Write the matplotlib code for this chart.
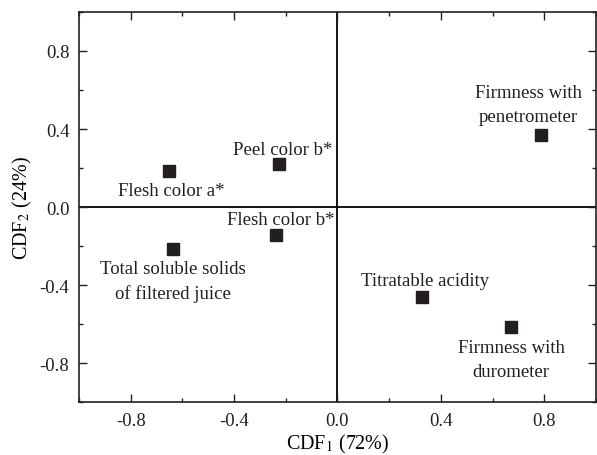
import numpy as np
import matplotlib
matplotlib.use('Agg')
import matplotlib.pyplot as plt
from matplotlib.ticker import MultipleLocator, FormatStrFormatter

labels = ['Flesh color a*', 'Peel color b*', 'Flesh color b*',
          'Total soluble solids\nof filtered juice', 'Titratable acidity',
          'Firmness with\ndurometer', 'Firmness with\npenetrometer']
cdf1 = [-0.653, -0.225, -0.237, -0.638, 0.328, 0.670, 0.788]
cdf2 = [0.186, 0.219, -0.144, -0.217, -0.462, -0.614, 0.367]
# label anchor points (centre of text block)
lab_x = [-0.643, -0.213, -0.221, -0.637, 0.339, 0.671, 0.737]
lab_y = [0.087, 0.296, -0.066, -0.379, -0.378, -0.782, 0.524]

plt.rcParams['font.family'] = 'Liberation Serif'
plt.rcParams['mathtext.fontset'] = 'stix'
plt.rcParams['axes.unicode_minus'] = False

fig = plt.figure(figsize=(5.97, 4.56), dpi=100)
ax = fig.add_axes([0.1323, 0.1162, 0.866, 0.8553])

ax.axhline(0, color='black', lw=1.3, zorder=1)
ax.axvline(0, color='black', lw=1.3, zorder=1)
ax.plot(cdf1, cdf2, 's', color='#231f20', markersize=8, zorder=3)
for t, x, y in zip(labels, lab_x, lab_y):
    ax.text(x, y, t, ha='center', va='center', fontsize=13.5, color='#231f20',
            linespacing=1.55)

ax.set_xlim(-1, 1)
ax.set_ylim(-1, 1)
ax.xaxis.set_major_locator(MultipleLocator(0.4))
ax.yaxis.set_major_locator(MultipleLocator(0.4))
ax.xaxis.set_minor_locator(MultipleLocator(0.2))
ax.yaxis.set_minor_locator(MultipleLocator(0.2))
ax.xaxis.set_major_formatter(FormatStrFormatter('%.1f'))
ax.yaxis.set_major_formatter(FormatStrFormatter('%.1f'))
ax.tick_params(which='both', direction='in', top=True, right=True,
               labelsize=13.5, colors='#231f20', width=1)
ax.tick_params(which='major', length=6, pad=7)
ax.tick_params(which='minor', length=3)
for s in ax.spines.values():
    s.set_linewidth(1.2)
    s.set_color('#231f20')

ax.set_xlabel('CDF$_1$ (72%)', fontsize=14.5, labelpad=2.5)
ax.set_ylabel('CDF$_2$ (24%)', fontsize=14.5, labelpad=4)

fig.savefig('out.png', dpi=100)
